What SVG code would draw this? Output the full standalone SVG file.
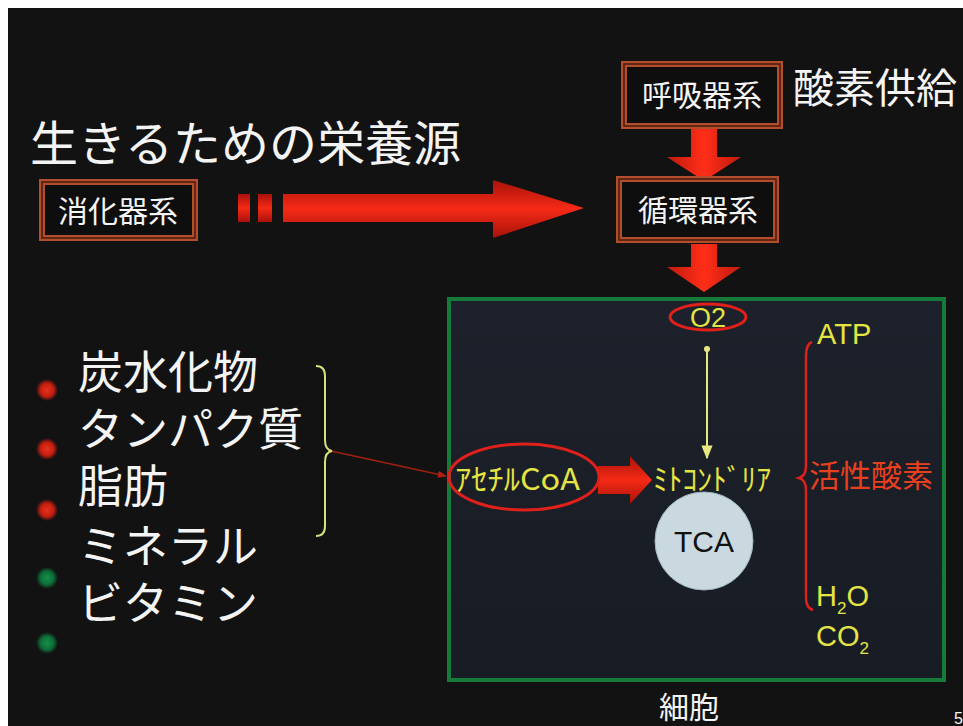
<svg xmlns="http://www.w3.org/2000/svg" width="963" height="726" viewBox="0 0 963 726">
<style>
.jp{font-family:"Noto Sans CJK JP","Noto Sans",sans-serif}
.lat{font-family:"Liberation Sans",Arial,sans-serif}
.w{fill:#f4f4f4}
.y{fill:#e4e444}
.box{fill:#0e0e0e;stroke:#b24e2c;stroke-width:6}
.boxin{fill:none;stroke:#4a1a0e;stroke-width:1.5}
</style>
<defs>
<linearGradient id="rh" x1="0" y1="0" x2="0" y2="1">
<stop offset="0" stop-color="#a8120a"/><stop offset="0.5" stop-color="#f52a16"/><stop offset="1" stop-color="#a8120a"/>
</linearGradient>
<linearGradient id="rv" x1="0" y1="0" x2="1" y2="0">
<stop offset="0" stop-color="#c01a0e"/><stop offset="0.5" stop-color="#ff2e18"/><stop offset="1" stop-color="#c01a0e"/>
</linearGradient>
<linearGradient id="cell" x1="0" y1="0" x2="0" y2="1">
<stop offset="0" stop-color="#1c212b"/><stop offset="1" stop-color="#181c24"/>
</linearGradient>
<radialGradient id="rdot"><stop offset="0" stop-color="#e8301c"/><stop offset="0.6" stop-color="#c41e10"/><stop offset="1" stop-color="#c41e10" stop-opacity="0"/></radialGradient>
<radialGradient id="gdot"><stop offset="0" stop-color="#16904a"/><stop offset="0.6" stop-color="#0c6e38"/><stop offset="1" stop-color="#0c6e38" stop-opacity="0"/></radialGradient>
<marker id="ya" viewBox="0 0 10 10" refX="9" refY="5" markerWidth="7" markerHeight="7" orient="auto"><path d="M0,1 L10,5 L0,9 z" fill="#e8e880"/></marker>
<marker id="ra" viewBox="0 0 10 10" refX="9" refY="5" markerWidth="6" markerHeight="6" orient="auto"><path d="M0,1 L10,5 L0,9 z" fill="#b02010"/></marker>
</defs>

<rect x="0" y="0" width="963" height="726" fill="#ffffff"/>
<rect x="8" y="8" width="955" height="718" fill="#121212"/>

<text class="jp w" x="30" y="161" font-size="48">生きるための栄養源</text>
<text class="jp w" x="793" y="103" font-size="41">酸素供給</text>

<g id="cell-box">
<rect x="449" y="299" width="495" height="381" fill="url(#cell)" stroke="#167a3a" stroke-width="4"/>
</g>

<g id="connectors">
<g id="arrow-digest">
<rect x="238" y="194" width="12" height="28" fill="url(#rh)"/>
<rect x="258" y="194" width="14" height="28" fill="url(#rh)"/>
<path d="M283,194 L493,194 L493,180 L584,208 L493,238 L493,222 L283,222 Z" fill="url(#rh)"/>
</g>
<path id="arrow-resp" d="M691,129 L717,129 L717,157 L741,157 L704,181 L667,157 L691,157 Z" fill="url(#rv)"/>
<path id="arrow-circ" d="M691,244 L717,244 L717,267 L741,267 L704,292 L667,267 L691,267 Z" fill="url(#rv)"/>
<path id="arrow-acoa" d="M598,466 L630,466 L630,456 L652,480 L630,504 L630,494 L598,494 Z" fill="url(#rh)"/>
<line x1="707" y1="349" x2="707" y2="458" stroke="#e8e880" stroke-width="2" marker-end="url(#ya)"/>
<circle cx="707" cy="349" r="3" fill="#e8e880"/>
<line x1="331" y1="451" x2="446" y2="476" stroke="#a02010" stroke-width="1.5" marker-end="url(#ra)"/>
<path id="brace-nutr" d="M316,366 Q325,366 325,376 L325,440 Q325,450 332,451 Q325,452 325,462 L325,526 Q325,536 316,536" fill="none" stroke="#d4e27a" stroke-width="2"/>
<path id="brace-prod" d="M812,342 Q806,344 806,356 L806,466 Q806,476 799,478 Q806,480 806,490 L806,598 Q806,608 813,610" fill="none" stroke="#e0201a" stroke-width="2.5"/>
</g>

<g id="node-shoka">
<rect class="box" x="42" y="182" width="153" height="56"/>
<rect class="boxin" x="42" y="182" width="153" height="56"/>
<text class="jp w" x="118" y="222" font-size="30" text-anchor="middle">消化器系</text>
</g>
<g id="node-kokyu">
<rect class="box" x="624" y="64" width="156" height="62"/>
<rect class="boxin" x="624" y="64" width="156" height="62"/>
<text class="jp w" x="702" y="106" font-size="30" text-anchor="middle">呼吸器系</text>
</g>
<g id="node-junkan">
<rect class="box" x="619" y="179" width="157" height="61"/>
<rect class="boxin" x="619" y="179" width="157" height="61"/>
<text class="jp w" x="698" y="221" font-size="30" text-anchor="middle">循環器系</text>
</g>

<g id="list">
<circle cx="47" cy="390" r="11" fill="url(#rdot)"/>
<circle cx="47" cy="449" r="11" fill="url(#rdot)"/>
<circle cx="47" cy="510" r="11" fill="url(#rdot)"/>
<circle cx="47" cy="578" r="11" fill="url(#gdot)"/>
<circle cx="47" cy="643" r="11" fill="url(#gdot)"/>
<text class="jp w" font-size="45"><tspan x="78" y="389">炭水化物</tspan><tspan x="78" y="446">タンパク質</tspan><tspan x="78" y="503">脂肪</tspan><tspan x="78" y="563">ミネラル</tspan><tspan x="78" y="620">ビタミン</tspan></text>
</g>

<g id="node-o2">
<ellipse cx="708" cy="317" rx="38" ry="13" fill="none" stroke="#e0201a" stroke-width="3"/>
<text class="lat y" x="708" y="327" font-size="27" text-anchor="middle">O2</text>
</g>

<g id="node-acoa">
<ellipse cx="524" cy="477" rx="75" ry="33" fill="none" stroke="#e0201a" stroke-width="3"/>
<text class="jp y" x="455" y="490" font-size="30" textLength="125" lengthAdjust="spacingAndGlyphs">ｱｾﾁﾙCoA</text>
</g>

<g id="node-mito">
<text class="jp y" x="653" y="490" font-size="30" textLength="118" lengthAdjust="spacingAndGlyphs">ﾐﾄｺﾝﾄﾞﾘｱ</text>
</g>

<g id="node-tca">
<circle cx="704" cy="541" r="49" fill="#c9d9df" stroke="#9fb4bd" stroke-width="1"/>
<text class="lat" x="704" y="552" font-size="30" text-anchor="middle" fill="#111">TCA</text>
</g>

<g id="products">
<text class="lat y" x="817" y="344" font-size="29">ATP</text>
<text class="jp" x="809" y="487" font-size="31" fill="#e8401e">活性酸素</text>
<text class="lat y" x="816" y="606" font-size="29">H<tspan font-size="17" dy="8">2</tspan><tspan dy="-8">O</tspan></text>
<text class="lat y" x="816" y="646" font-size="29">CO<tspan font-size="17" dy="8">2</tspan></text>
</g>

<text class="jp w" x="689" y="718" font-size="30" text-anchor="middle">細胞</text>
<text class="lat w" x="954" y="724" font-size="16">5</text>
</svg>
